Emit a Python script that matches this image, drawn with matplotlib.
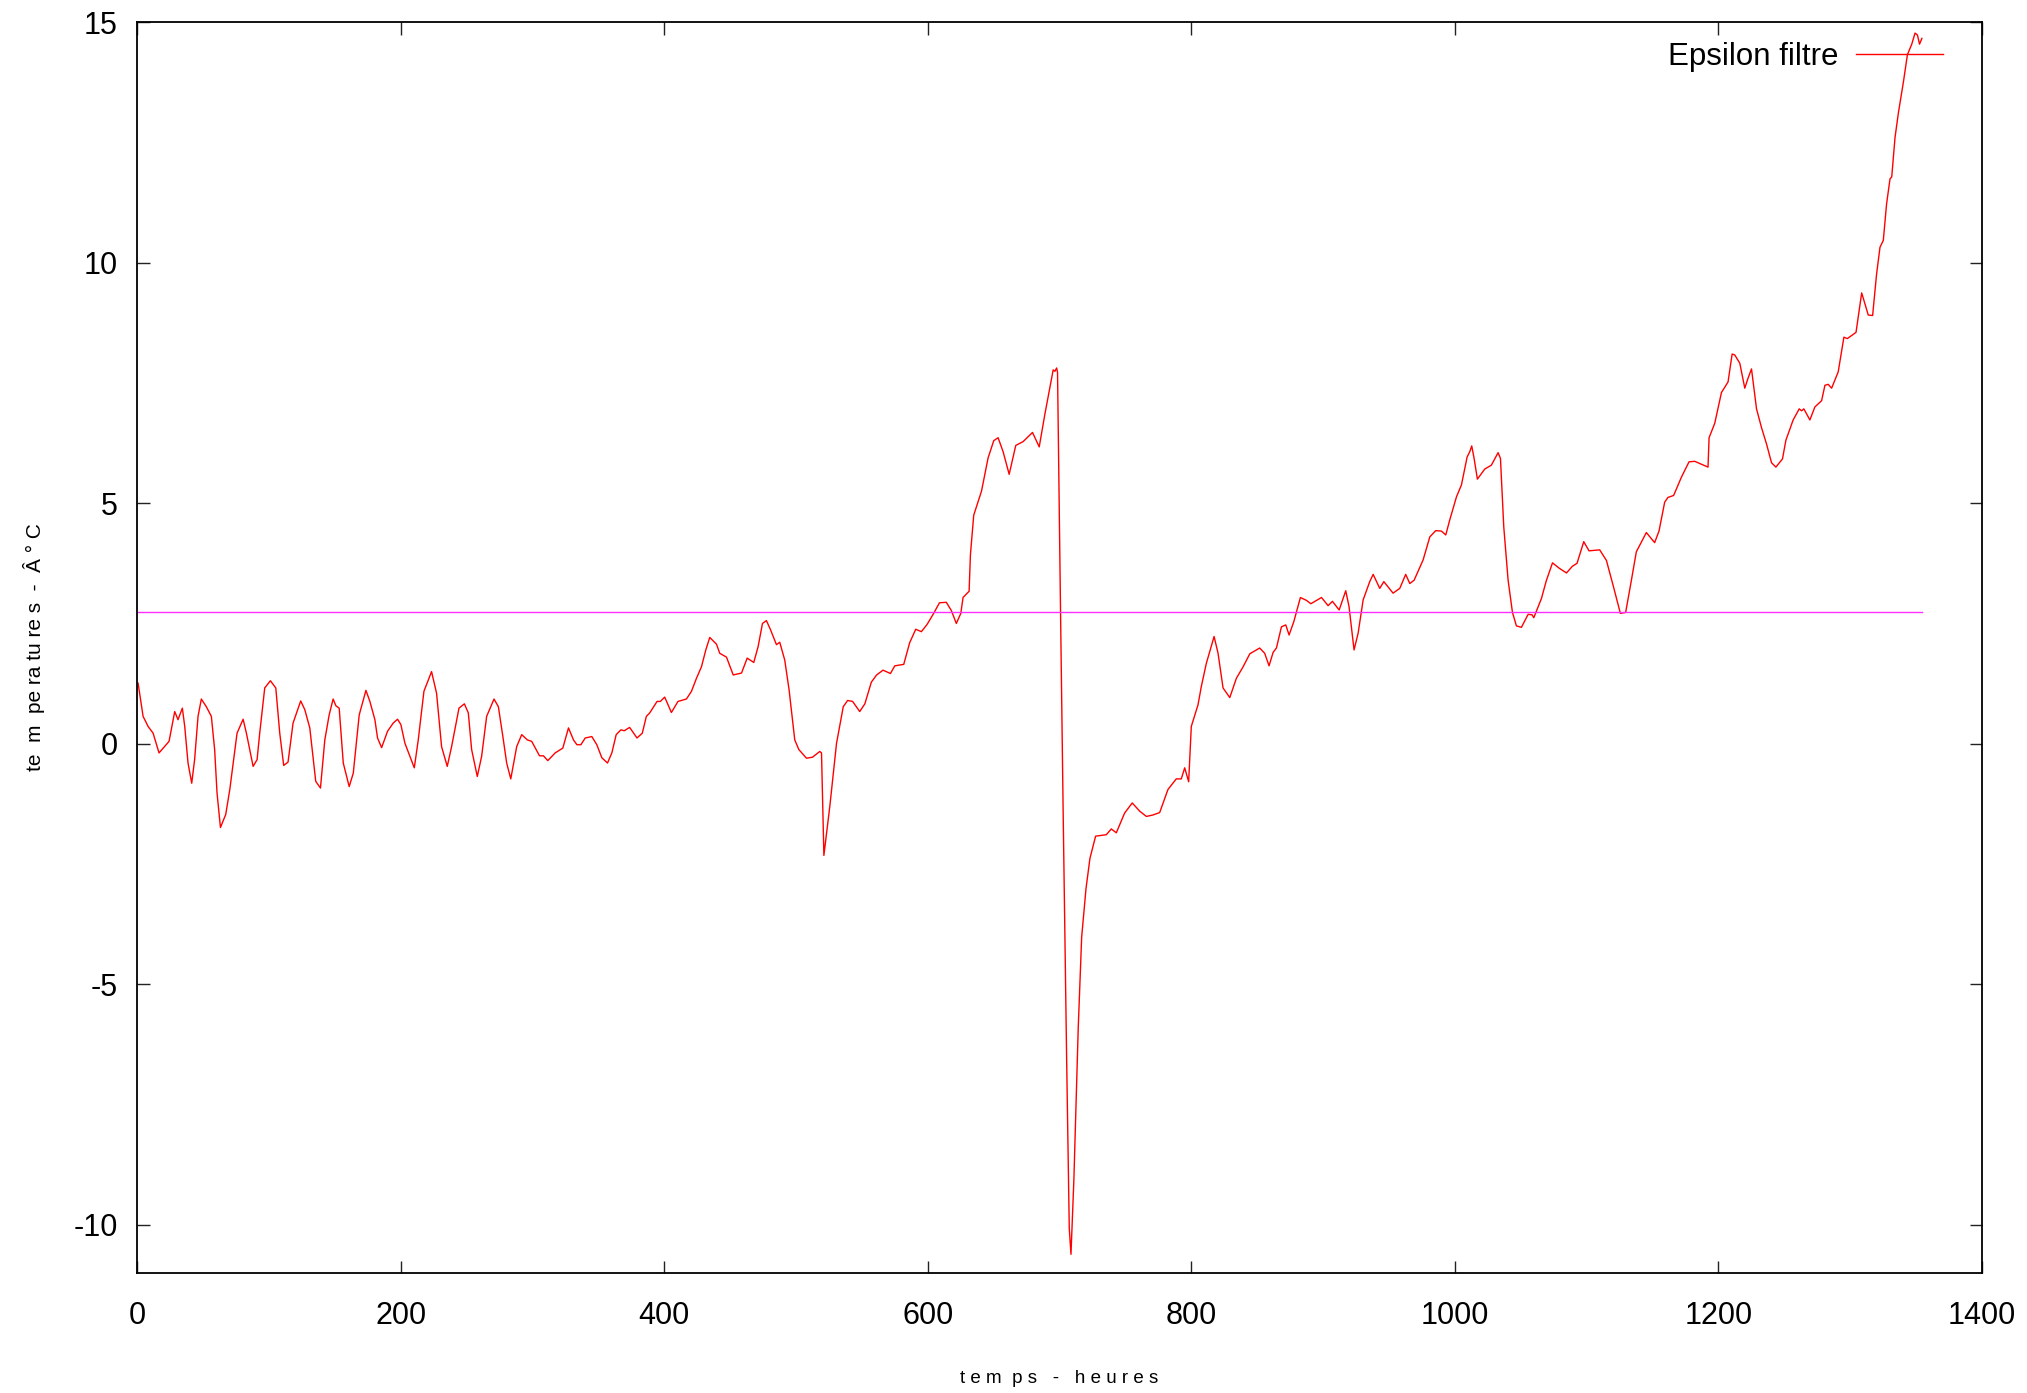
import matplotlib
matplotlib.use("Agg")
import matplotlib.pyplot as plt

# heures / epsilon filtre
hours = [
    0.8, 4.6, 8.4, 12.2, 16.7, 24.3, 28.6, 31.1, 34.4, 36.2, 38.7, 41.5, 43.7, 46.3, 48.8, 52.6,
    56.4, 58.9, 60.7, 63.3, 67.3, 70.4, 75.9, 80.5, 83.0, 88.1, 91.1, 93.1, 96.9, 101.2, 105.3,
    108.3, 111.3, 114.6, 118.4, 124.2, 127.3, 131.1, 135.6, 139.2, 142.5, 145.8, 148.8, 150.9,
    153.4, 156.5, 161.0, 164.1, 168.6, 173.7, 176.7, 180.5, 182.5, 185.6, 190.1, 194.4, 197.7,
    200.2, 203.3, 207.1, 210.4, 213.4, 217.7, 223.5, 227.3, 231.1, 235.4, 238.7, 244.3, 248.4,
    251.4, 253.9, 258.2, 261.5, 265.3, 270.9, 274.2, 277.5, 280.5, 283.6, 288.1, 291.9, 296.2,
    299.5, 305.4, 308.4, 311.7, 317.3, 323.1, 327.4, 331.2, 333.8, 336.8, 340.1, 345.1, 348.9,
    352.7, 357.0, 360.3, 363.6, 367.2, 369.7, 373.8,
    379.4, 383.4, 386.5, 389.0, 394.6, 397.1, 400.4, 405.5, 410.5, 416.9, 420.7, 424.5, 428.3,
    431.6, 434.6, 439.7, 442.2, 447.3, 452.4, 458.7, 463.0, 468.0, 471.3, 474.6, 477.6, 480.7,
    485.2, 487.7, 491.5, 494.8, 499.1, 502.2, 508.0, 512.5, 518.1, 519.4, 521.2, 525.7, 530.8,
    535.9, 539.2, 543.0, 548.4, 552.3, 557.2, 561.2, 566.1, 571.7, 575.0, 581.8, 586.3, 590.9,
    595.2, 599.5, 604.3, 608.9, 614.1, 617.9, 621.7, 625.1, 626.8, 631.4, 632.4, 634.9, 640.8,
    645.8, 650.1, 653.4, 657.2, 661.8, 666.8, 672.4, 679.5, 684.6, 688.9, 692.2, 695.2, 696.5,
    697.8, 698.5, 699.8, 700.8, 702.8, 705.4, 707.4, 708.7, 710.9, 714.2, 716.8, 720.1, 723.1,
    727.4, 735.5, 739.3, 743.1,
    749.4, 755.2, 760.8, 765.9, 770.9, 776.0, 782.3, 788.6, 792.4, 795.0, 798.0, 800.0, 805.1,
    807.6, 811.4, 817.3, 820.3, 824.1, 829.2, 834.2, 839.3, 844.4, 851.9, 855.7, 859.0, 862.1,
    864.6, 868.4, 871.7, 874.2, 877.8, 882.8, 887.4, 890.7, 898.8, 903.8, 907.1, 912.2, 917.2,
    919.7, 923.5, 926.6, 930.4, 935.4, 938.0, 943.0, 946.1, 953.1, 958.2, 962.7, 965.8, 969.1,
    975.9, 981.0, 985.5, 989.8, 993.1, 996.1, 1001.2, 1005.0, 1009.3, 1011.3, 1012.8, 1014.6,
    1017.1, 1022.7, 1027.7, 1032.8, 1034.6, 1037.1, 1040.4, 1043.7, 1046.7, 1050.5, 1055.6,
    1058.6, 1059.9, 1065.7, 1069.4, 1074.1, 1079.1, 1084.7, 1089.2, 1092.7, 1097.8, 1101.8,
    1109.9, 1115.0, 1120.0, 1125.6, 1129.6, 1133.9, 1137.7, 1145.3, 1151.6, 1154.9, 1159.2,
    1161.7, 1166.0, 1171.9, 1177.7, 1182.0, 1192.1, 1192.9, 1197.2, 1202.3, 1207.3, 1210.4,
    1212.4, 1216.2, 1220.0, 1222.5, 1225.1, 1228.9, 1232.7, 1236.5, 1240.3, 1243.6, 1248.6,
    1251.2, 1256.7, 1261.3, 1263.1, 1264.8, 1269.4, 1273.2, 1278.3, 1280.8, 1283.3, 1285.9,
    1290.9, 1295.2, 1297.8, 1304.4, 1308.7, 1313.7, 1317.0, 1320.0, 1322.6, 1325.1, 1327.6,
    1330.2, 1331.5, 1334.0, 1336.6, 1340.4, 1343.4, 1346.7, 1349.2, 1351.0, 1352.6, 1354.4,
]
epsilon = [
    1.26, 0.57, 0.36, 0.22, -0.19, 0.05, 0.67, 0.50, 0.74, 0.36, -0.40, -0.82, -0.33, 0.57, 0.93, 0.77,
    0.57, -0.12, -1.02, -1.74, -1.47, -0.95, 0.22, 0.51, 0.22, -0.47, -0.33, 0.22, 1.16, 1.31, 1.16,
    0.22, -0.45, -0.38, 0.43, 0.89, 0.71, 0.33, -0.78, -0.92, 0.08, 0.60, 0.93, 0.79,
    0.74, -0.40, -0.89, -0.61, 0.60, 1.11, 0.88, 0.50, 0.12, -0.08, 0.26, 0.43, 0.51,
    0.40, 0.01, -0.26, -0.50, 0.08, 1.09, 1.50, 1.05, -0.06, -0.47, -0.06, 0.74, 0.83,
    0.64, -0.12, -0.68, -0.26, 0.57, 0.93, 0.77, 0.17, -0.40, -0.73, -0.06, 0.19, 0.08,
    0.05, -0.25, -0.25, -0.35, -0.19, -0.09, 0.33, 0.08, -0.02, -0.02, 0.12, 0.15, -0.02,
    -0.29, -0.40, -0.19, 0.19, 0.29, 0.27, 0.34,
    0.12, 0.22, 0.57, 0.64, 0.88, 0.88, 0.97, 0.65, 0.88, 0.93, 1.09, 1.36, 1.60,
    1.95, 2.21, 2.07, 1.88, 1.80, 1.43, 1.47, 1.78, 1.69, 2.02, 2.50, 2.56, 2.37,
    2.06, 2.11, 1.74, 1.12, 0.08, -0.12, -0.30, -0.28, -0.16, -0.19, -2.32, -1.30, 0.01,
    0.77, 0.90, 0.88, 0.67, 0.83, 1.28, 1.43, 1.53, 1.46, 1.62, 1.65, 2.10, 2.38,
    2.33, 2.48, 2.70, 2.93, 2.94, 2.77, 2.50, 2.71, 3.04, 3.17, 3.93, 4.75, 5.25,
    5.94, 6.30, 6.36, 6.07, 5.60, 6.20, 6.28, 6.47, 6.17, 6.85, 7.33, 7.77, 7.74,
    7.81, 7.72, 4.81, 2.70, -1.49, -6.54, -10.07, -10.61, -9.06, -5.91, -4.02, -3.01, -2.38,
    -1.92, -1.89, -1.77, -1.85,
    -1.44, -1.23, -1.40, -1.51, -1.48, -1.43, -0.95, -0.73, -0.73, -0.50, -0.79, 0.36, 0.81,
    1.19, 1.67, 2.23, 1.88, 1.16, 0.96, 1.36, 1.60, 1.87, 1.99, 1.88, 1.62, 1.90,
    1.99, 2.43, 2.47, 2.26, 2.54, 3.04, 2.98, 2.91, 3.04, 2.87, 2.96, 2.78, 3.18,
    2.85, 1.95, 2.30, 2.99, 3.37, 3.52, 3.23, 3.37, 3.13, 3.23, 3.52, 3.33, 3.40,
    3.82, 4.30, 4.43, 4.42, 4.34, 4.65, 5.13, 5.38, 5.96, 6.07, 6.19, 5.93,
    5.50, 5.71, 5.79, 6.05, 5.93, 4.51, 3.40, 2.73, 2.45, 2.42, 2.69,
    2.68, 2.62, 3.02, 3.39, 3.76, 3.65, 3.55, 3.69, 3.75, 4.20, 4.01,
    4.03, 3.81, 3.30, 2.71, 2.73, 3.39, 3.99, 4.39, 4.18, 4.42, 5.02,
    5.12, 5.16, 5.54, 5.86, 5.87, 5.75, 6.36, 6.66, 7.30, 7.52, 8.10,
    8.08, 7.91, 7.39, 7.60, 7.79, 6.96, 6.57, 6.23, 5.84, 5.75, 5.92,
    6.31, 6.73, 6.96, 6.92, 6.96, 6.73, 7.00, 7.13, 7.45, 7.47, 7.39,
    7.73, 8.45, 8.42, 8.55, 9.37, 8.91, 8.90, 9.76, 10.32, 10.46, 11.22,
    11.74, 11.78, 12.60, 13.12, 13.76, 14.32, 14.54, 14.77, 14.73, 14.54, 14.66,
]

# moyenne (ligne horizontale)
mean_hours = [0, 1354.4]
mean_value = [2.73, 2.73]

xticks = [0, 200, 400, 600, 800, 1000, 1200, 1400]
yticks = [-10, -5, 0, 5, 10, 15]

plt.rcParams['font.family'] = ['Liberation Sans', 'DejaVu Sans']
plt.rcParams['axes.unicode_minus'] = False

fig = plt.figure(figsize=(20.27, 13.93), dpi=100)
ax = fig.add_axes([0.0676, 0.0861, 0.9102, 0.8981])

ax.plot(hours, epsilon, color='#ff0000', lw=1.0, label='Epsilon filtre')
ax.plot(mean_hours, mean_value, color='#ff30ff', lw=1.0)

ax.set_xlim(0, 1400)
ax.set_ylim(-11, 15)
ax.set_xticks(xticks)
ax.set_yticks(yticks)

ax.tick_params(direction='in', length=9, width=1, labelsize=22,
               top=True, right=True, color='#222222')
ax.tick_params(axis='x', pad=20)
ax.tick_params(axis='y', pad=14)
for s in ax.spines.values():
    s.set_linewidth(1.3)

ax.set_xlabel('t e m  p s   -   h e u r e s', fontsize=13.5, labelpad=28)
ax.set_ylabel('te  m  pe ra tu re s  -  Â ° C', fontsize=15, labelpad=20)

ax.legend(loc='upper right', bbox_to_anchor=(0.979, 0.984), frameon=False,
          markerfirst=False, fontsize=22.5, handlelength=2.8, handletextpad=0.55,
          borderpad=0, borderaxespad=0)

fig.savefig('out.png', dpi=100)
